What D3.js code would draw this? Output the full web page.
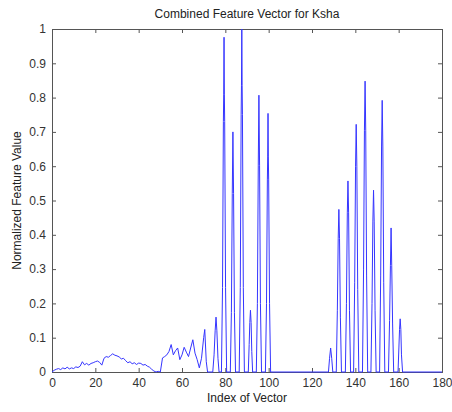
<!DOCTYPE html>
<html>
<head>
<meta charset="utf-8">
<script src="https://cdn.jsdelivr.net/npm/d3@7"></script>
<style>
body { margin: 0; background: #fff; }
svg { display: block; font-family: Arial, "Liberation Sans", sans-serif; }
.axis text { fill: #333; font-size: 12px; }
.axis path, .axis line { stroke: #555; }
</style>
</head>
<body>
<svg width="452" height="412"></svg>
<script>
// [index, value] pairs
const lowBand = [[0,0],[1,0.005],[2,0.008],[3,0.01],[4,0.007],[5,0.012],[6,0.009],[7,0.014],[8,0.009],[9,0.012],
  [10,0.01],[11,0.015],[12,0.013],[13,0.017],[14,0.03],[15,0.021],[16,0.025],[17,0.02],[18,0.025],[19,0.027],
  [20,0.03],[21,0.032],[22,0.028],[23,0.02],[24,0.04],[25,0.045],[26,0.043],[27,0.048],[28,0.053],[29,0.049],
  [30,0.047],[31,0.044],[32,0.038],[33,0.04],[34,0.033],[35,0.027],[36,0.03],[37,0.024],[38,0.027],[39,0.022],
  [40,0.026],[41,0.025],[42,0.02],[43,0.022],[44,0.017],[45,0.014],[46,0.008],[47,0.003],[48,0],[49,0.002],
  [50,0],[51,0.041],[52,0.045],[53,0.05],[54,0.06],[55,0.08],[56,0.05],[57,0.062],[58,0.07],[59,0.036],
  [60,0.05],[61,0.072],[62,0.058],[63,0.045],[64,0.07],[65,0.094],[66,0.055],[67,0.036],[68,0.012],[69,0.04],
  [70,0.1],[70.5,0.124],[71.2,0.03],[71.8,0]];

const peaksA = [[74.2,0],[74.8,0.05],[75.3,0.12],[75.7,0.16],[76.1,0.12],[76.6,0.04],[77.1,0],
  [78.2,0],[78.7,0.246],[79.1,0.73],[79.25,0.81],[79.4,0.976],[79.55,0.81],[79.7,0.73],[80.1,0.246],[80.6,0],
  [82.3,0],[82.8,0.174],[83.2,0.52],[83.5,0.70],[83.8,0.52],[84.2,0.174],[84.7,0],
  [86.4,0],[86.9,0.246],[87.3,0.75],[87.45,0.836],[87.6,1.0],[87.75,0.836],[87.9,0.75],[88.3,0.246],[88.8,0],
  [90.6,0],[91.0,0.08],[91.3,0.144],[91.6,0.18],[91.9,0.144],[92.2,0.06],[92.6,0],
  [94.3,0],[94.8,0.2],[95.2,0.603],[95.5,0.807],[95.8,0.603],[96.2,0.2],[96.7,0],
  [98.5,0],[99.0,0.2],[99.4,0.56],[99.55,0.627],[99.7,0.754],[99.85,0.627],[100.0,0.56],[100.4,0.2],[100.9,0]];

const peaksB = [[127.6,0],[128.1,0.04],[128.6,0.07],[129.1,0.04],[129.6,0],
  [131.2,0],[131.7,0.18],[132.1,0.39],[132.4,0.474],[132.7,0.39],[133.1,0.16],[133.6,0],
  [135.4,0],[135.9,0.2],[136.3,0.464],[136.6,0.557],[136.9,0.464],[137.3,0.18],[137.8,0],
  [139.2,0],[139.7,0.26],[140.1,0.6],[140.4,0.722],[140.7,0.6],[141.1,0.24],[141.6,0],
  [143.3,0],[143.8,0.3],[144.2,0.705],[144.5,0.848],[144.8,0.705],[145.2,0.28],[145.7,0],
  [147.2,0],[147.7,0.2],[148.1,0.44],[148.4,0.53],[148.7,0.44],[149.1,0.18],[149.6,0],
  [151.2,0],[151.7,0.28],[152.1,0.656],[152.4,0.792],[152.7,0.656],[153.1,0.26],[153.6,0],
  [155.3,0],[155.8,0.15],[156.2,0.31],[156.5,0.42],[156.8,0.31],[157.2,0.14],[157.7,0],
  [159.7,0],[160.1,0.07],[160.4,0.124],[160.7,0.155],[161.0,0.124],[161.3,0.05],[161.8,0],
  [180,0]];

const xTicks = [0, 20, 40, 60, 80, 100, 120, 140, 160, 180];
const yTicks = [0, 0.1, 0.2, 0.3, 0.4, 0.5, 0.6, 0.7, 0.8, 0.9, 1];

const margin = { top: 29, right: 10, bottom: 40, left: 52 },
    width = 452 - margin.left - margin.right,
    height = 412 - margin.top - margin.bottom;

const svg = d3.select("svg");
const g = svg.append("g")
    .attr("transform", "translate(" + margin.left + "," + margin.top + ")");

let x = d3.scaleLinear().domain([0, 180]).range([0, width]);
let y = d3.scaleLinear().domain([0, 1]).range([height, 0]);

// matlab style: ticks point inward, on all four sides
const tk = 4;
g.append("g").attr("class", "axis")
    .attr("transform", "translate(0," + height + ")")
    .call(d3.axisBottom(x).tickValues(xTicks).tickSize(-tk).tickPadding(6).tickFormat(d3.format("d")));
g.append("g").attr("class", "axis")
    .call(d3.axisTop(x).tickValues(xTicks).tickSize(-tk).tickFormat(""));
g.append("g").attr("class", "axis")
    .call(d3.axisLeft(y).tickValues(yTicks).tickSize(-tk).tickPadding(6).tickFormat(d => String(d)));
g.append("g").attr("class", "axis")
    .attr("transform", "translate(" + width + ",0)")
    .call(d3.axisRight(y).tickValues(yTicks).tickSize(-tk).tickFormat(""));

const series = lowBand.concat(peaksA, peaksB);
const line = d3.line()
    .x(d => x(d[0]))
    .y(d => y(d[1]));

g.append("path")
    .datum(series)
    .attr("fill", "none")
    .attr("stroke", "#3535ff")
    .attr("stroke-width", 1)
    .attr("d", line);

svg.append("text")
    .attr("x", margin.left + width / 2)
    .attr("y", 18)
    .attr("text-anchor", "middle")
    .style("font-size", "12px")
    .style("fill", "#222")
    .text("Combined Feature Vector for Ksha");

svg.append("text")
    .attr("x", margin.left + width / 2)
    .attr("y", 402)
    .attr("text-anchor", "middle")
    .style("font-size", "12px")
    .style("fill", "#222")
    .text("Index of Vector");

svg.append("text")
    .attr("transform", "translate(21," + (margin.top + height / 2) + ") rotate(-90)")
    .attr("text-anchor", "middle")
    .style("font-size", "12px")
    .style("fill", "#222")
    .text("Normalized Feature Value");
</script>
</body>
</html>
